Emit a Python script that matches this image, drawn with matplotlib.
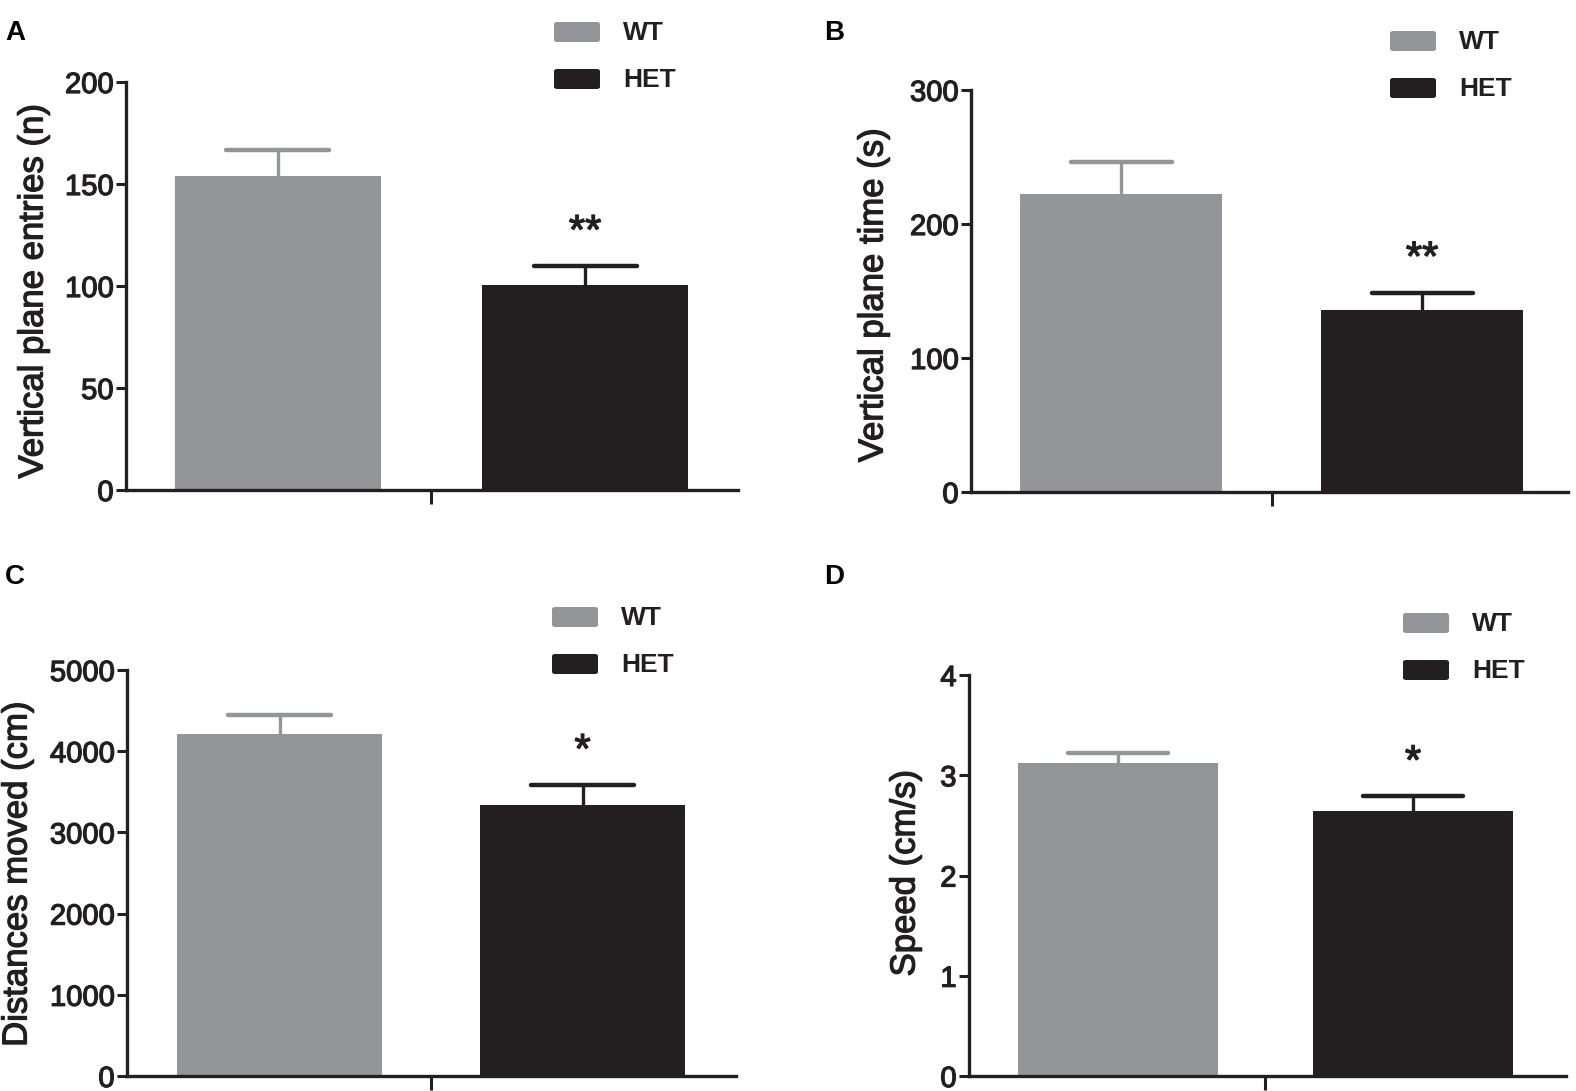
import matplotlib
matplotlib.use("Agg")
import matplotlib.pyplot as plt
import matplotlib.patheffects as pe
from matplotlib.patches import FancyBboxPatch

# ── Data ───────────────────────────────────────────────────────────────
GROUPS = ["WT", "HET"]

entries_mean = [154.0, 100.6]
entries_sem = [12.6, 9.2]

time_mean = [222.2, 136.1]
time_sem = [24.3, 12.7]

dist_mean = [4212, 3337]
dist_sem = [234, 247]

speed_mean = [3.12, 2.64]
speed_sem = [0.10, 0.15]

signif_entries = ["", "**"]
signif_time = ["", "**"]
signif_dist = ["", "*"]
signif_speed = ["", "*"]

yticks_entries = [0, 50, 100, 150, 200]
yticks_time = [0, 100, 200, 300]
yticks_dist = [0, 1000, 2000, 3000, 4000, 5000]
yticks_speed = [0, 1, 2, 3, 4]

# ── Style ──────────────────────────────────────────────────────────────
W, H = 1576, 1091
COLORS = ["#939598", "#231f20"]
INK = "#231f20"
plt.rcParams["font.family"] = ["Liberation Sans", "DejaVu Sans"]
HEAVY = [pe.withStroke(linewidth=0.9, foreground=INK)]

fig = plt.figure(figsize=(W / 100, H / 100), dpi=100)


def px(x, y):
    """pixel (from top-left) -> figure fraction"""
    return x / W, 1 - y / H


def panel(box, bars, means, sems, signif, yticks, ylabel, ylabel_xy,
          letter_xy, letter, legend_xy):
    # box = (spine_left, right, y_zero, y_top) in pixels
    # bars = (centre_wt, centre_het, bar_width) in pixels
    x0, x1, yb, yt = box
    c0, c1, bw = bars
    d = c1 - c0
    ax = fig.add_axes([x0 / W, 1 - yb / H, (x1 - x0) / W, (yb - yt) / H])
    xs = range(len(means))
    width = bw / d
    ax.bar(xs, means, width=width, color=COLORS, zorder=2)
    for i in xs:
        top = means[i] + sems[i]
        # one-sided (upper) SEM bar, same colour as the bar
        ax.plot([i, i], [means[i], top], color=COLORS[i], lw=2.4, zorder=1)
        ax.plot([i - width / 4, i + width / 4], [top, top], color=COLORS[i],
                lw=3.2, solid_capstyle="round", zorder=1)
        if signif[i]:
            ax.annotate(signif[i], (i, top), xytext=(0, 24),
                        textcoords="offset points", ha="center",
                        va="center", fontsize=30, color=INK,
                        path_effects=HEAVY)
    ax.set_xlim((x0 - c0) / d, (x1 - c0) / d)
    ax.set_ylim(yticks[0], yticks[-1])
    ax.set_yticks(yticks)
    ax.set_yticklabels([str(t) for t in yticks], fontsize=21, color=INK,
                       path_effects=HEAVY)
    ax.set_xticks([0.5])
    ax.set_xticklabels([""])
    ax.tick_params(axis="y", length=7, width=2.2, color=INK, pad=2)
    ax.tick_params(axis="x", length=10, width=2.2, color=INK)
    for s in ["top", "right"]:
        ax.spines[s].set_visible(False)
    for s in ["left", "bottom"]:
        ax.spines[s].set_linewidth(2.4)
        ax.spines[s].set_color(INK)
    ax.patch.set_alpha(0)

    fig.text(*px(*ylabel_xy), ylabel, rotation=90, ha="center",
             va="center", fontsize=25, color=INK, path_effects=HEAVY)
    fig.text(*px(*letter_xy), letter, ha="left", va="center",
             fontsize=20, fontweight="bold", color="black")

    # legend drawn as boxes + labels
    lx, ly = legend_xy
    for k, name in enumerate(GROUPS):
        top = ly + k * 47
        fx, fy = px(lx, top + 20)
        fig.patches.append(FancyBboxPatch(
            (fx, fy), 46 / W, 20 / H, boxstyle="round,pad=0,rounding_size=0.002",
            transform=fig.transFigure, facecolor=COLORS[k],
            edgecolor="none"))
        fig.text(*px(lx + 69, top + 11), name, ha="left", va="center",
                 fontsize=19, fontweight="bold", color=INK)


panel((126, 738, 490, 82), (277.5, 585, 206), entries_mean, entries_sem,
      signif_entries, yticks_entries, "Vertical plane entries (n)",
      (33, 291), (5, 33), "A", (554, 22))
panel((971, 1568, 492, 90), (1121, 1422, 202), time_mean, time_sem,
      signif_time, yticks_time, "Vertical plane time (s)",
      (873, 295), (824, 33), "B", (1390, 31))
panel((127, 736, 1076, 670), (279.5, 582.5, 205), dist_mean, dist_sem,
      signif_dist, yticks_dist, "Distances moved (cm)",
      (17, 874), (5, 577), "C", (552, 607))
panel((969, 1566, 1076, 675), (1117.5, 1413, 200), speed_mean, speed_sem,
      signif_speed, yticks_speed, "Speed (cm/s)",
      (905, 873), (824, 577), "D", (1403, 613))

fig.savefig("out.png", dpi=100)
